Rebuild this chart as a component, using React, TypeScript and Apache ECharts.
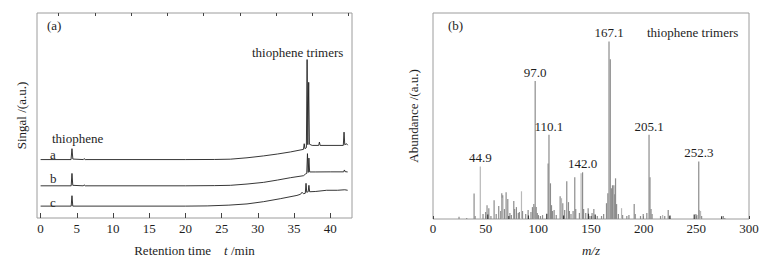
import React, { useEffect, useRef } from "react";
import * as echarts from "echarts";

// ---------- (a) chromatograms: [retention time (min), signal] ----------
const traceA: [number, number][] = [
  [0, 59], [4.2, 59], [4.33, 70], [4.45, 59.5], [5.9, 59], [6.0, 60], [6.15, 59],
  [20, 59], [24, 59.1], [26.2, 59.4], [28.5, 60.8], [30.8, 62.7], [32.7, 64.6],
  [34.5, 66.7], [36.3, 69.3], [36.4, 75], [36.5, 70], [36.7, 71], [36.8, 160],
  [36.9, 74], [37.02, 137], [37.12, 74.5], [37.5, 73.3], [38.4, 73.3], [38.5, 76.7],
  [38.6, 73.3], [41.8, 73.3], [41.9, 86.7], [42.0, 74], [42.25, 75], [42.4, 73.5],
];
const traceB: [number, number][] = [
  [0, 32.5], [4.22, 32.5], [4.33, 45], [4.44, 33], [5.9, 32.5], [6.0, 33.5], [6.15, 32.5],
  [20, 32.5], [24, 32.7], [26.2, 33], [28.5, 34.3], [30.8, 36], [32.7, 38.3],
  [34.5, 40.7], [36.3, 42.7], [36.6, 44.5], [36.75, 45], [36.85, 65], [36.95, 46],
  [37.05, 60.5], [37.15, 46.5], [38, 46.5], [40, 46.6], [41.85, 46.6], [41.95, 48.5],
  [42.05, 46.8], [42.4, 46.5],
];
const traceC: [number, number][] = [
  [0, 12], [4.22, 12], [4.33, 22.5], [4.44, 12], [20, 12], [23, 12.2], [26, 13],
  [28.5, 14.2], [30.8, 16.5], [33.1, 19.5], [35.4, 22.8], [35.9, 24], [36.1, 26],
  [36.3, 24.5], [36.55, 25], [36.65, 35], [36.75, 26], [36.95, 26.5], [37.05, 33],
  [37.15, 26.5], [38, 26.8], [39.5, 28], [41, 28], [42, 28.5], [42.4, 28],
];
const timeMajorTicks = [0, 5, 10, 15, 20, 25, 30, 35, 40];
const timeMinorTicks = [2.5, 7.5, 12.5, 17.5, 22.5, 27.5, 32.5, 37.5, 42.5];

// ---------- (b) mass spectrum: m/z and relative abundance ----------
const peakMz = [44.9, 97.0, 110.1, 142.0, 167.1, 205.1, 252.3];
const peakAbund = [29.6, 77.7, 47.5, 26.3, 100, 47.5, 32.4];
const peakTone = ["light", "mid", "mid", "mid", "mid", "mid", "mid"];

const midMz = [
  24.7, 32, 39, 40, 47.5, 50, 51.3, 53, 55, 58, 60, 62.4, 64.3, 65.3, 66.2, 67.8, 69.4, 71,
  73, 74.4, 76.7, 77.5, 79.2, 81, 82, 85, 88, 90.3, 93, 94.4, 95.7, 98, 99, 100, 102, 104,
  109.3, 111.5, 112.5, 113.5, 115, 117, 120.7, 123.2, 125, 127, 128.6, 129.5, 131, 133,
  134.6, 135.5, 139, 143, 145, 147.3, 149, 151, 152.7, 156, 160, 162, 164.7, 166, 168.3,
  169.3, 170.4, 171.7, 172.5, 173.3, 174.3, 176, 180, 184, 186, 191, 192, 197, 199.6, 203,
  206, 207, 208, 216, 220, 223.3, 224.5, 249.6, 250.5, 255, 275.6, 277,
];
const midAbund = [
  1.3, 0.6, 14.4, 1.7, 2.8, 3.9, 7.8, 6.1, 1.7, 10.6, 2.8, 7.3, 4.5, 14.5, 13.4, 5.6, 15.1, 11.2,
  3.4, 2.2, 10.1, 5.6, 6.7, 3.4, 3.9, 4.5, 2.8, 5, 3.9, 6.7, 8.4, 6.7, 3.4, 2.2, 1.7, 2.2,
  31.3, 20.1, 7.8, 4.5, 5, 2.2, 12.8, 8.9, 5, 21.2, 9.5, 4.5, 2.8, 4.5,
  23.5, 5.6, 3.4, 5.6, 3.4, 6.1, 1.7, 3.4, 5.6, 1.7, 1.7, 2.8, 8.9, 14.5, 90,
  17.3, 19, 19, 14, 22.9, 8.4, 2.8, 2.2, 1.7, 2.2, 8.4, 2.8, 1.7, 2.8, 3.4,
  23.5, 5.6, 2.8, 1.7, 1.7, 5, 1.7, 2.8, 2.2, 1.7, 1.7, 0.6,
];
const lightMz = [65.6, 84, 96.4, 122, 140.6, 179, 218, 253, 254];
const lightAbund = [12, 15.6, 7, 11.7, 25.7, 6.1, 2.2, 5, 4.5];
const darkMz = [52, 72, 90.6, 108, 124, 147.6, 154, 225, 248, 274];
const darkAbund = [2.5, 1.7, 2, 3, 2, 3, 2.5, 2, 2.5, 1.5];

const FONT = "'Liberation Serif', 'Times New Roman', serif";
const TXT = "#1e1e1e";
const FRAME = "#9c9c9c";
const COL_MID = "#8c8c8c";
const COL_LIGHT = "#b8b8b8";
const COL_DARK = "#3a3a3a";

const pairs = (xs: number[], ys: number[]) => xs.map((x, i) => [x, ys[i]]);

export default function App() {
  const ref = useRef<HTMLDivElement>(null);
  useEffect(() => {
    if (!ref.current) return;
    const chart = echarts.init(ref.current, undefined, { renderer: "svg" });
    const lineStyle = { color: "#202020", width: 0.9 };
    const barBase = {
      type: "bar",
      xAxisIndex: 2,
      yAxisIndex: 1,
      barWidth: 1.2,
      barGap: "-100%",
      silent: true,
    };
    const txt = (text: string, x: number, y: number, align = "left") => ({
      type: "text",
      x,
      y,
      style: {
        text,
        fill: TXT,
        font: `13px ${FONT}`,
        textAlign: align,
        textVerticalAlign: "middle",
      },
    });
    chart.setOption({
      animation: false,
      backgroundColor: "#fff",
      textStyle: { fontFamily: FONT, color: TXT },
      grid: [
        { left: 37, right: 411, top: 13, bottom: 42, show: true, borderColor: FRAME, borderWidth: 1 },
        { left: 433, right: 14, top: 13, bottom: 41, show: true, borderColor: FRAME, borderWidth: 1 },
      ],
      xAxis: [
        {
          type: "value",
          gridIndex: 0,
          min: -0.5,
          max: 43,
          splitLine: { show: false },
          axisLine: { show: false },
          axisTick: { show: true, inside: true, length: 5, customValues: timeMajorTicks, lineStyle: { color: "#444" } },
          axisLabel: { show: true, customValues: timeMajorTicks, margin: 4, fontSize: 13, fontFamily: FONT, color: TXT },
          name: "Retention time    {i|t} /min",
          nameLocation: "middle",
          nameGap: 26,
          nameTextStyle: {
            fontSize: 13,
            fontFamily: FONT,
            color: TXT,
            rich: { i: { fontStyle: "italic", fontSize: 13, fontFamily: FONT, color: TXT } },
          },
        },
        {
          type: "value",
          gridIndex: 0,
          min: -0.5,
          max: 43,
          splitLine: { show: false },
          axisLine: { show: false },
          axisTick: { show: true, inside: true, length: 3, customValues: timeMinorTicks, lineStyle: { color: "#444" } },
          axisLabel: { show: false },
        },
        {
          type: "value",
          gridIndex: 1,
          min: 0,
          max: 300,
          interval: 50,
          splitLine: { show: false },
          axisLine: { show: false },
          axisTick: { show: true, inside: true, length: 3, lineStyle: { color: "#444" } },
          axisLabel: { margin: 3, fontSize: 13, fontFamily: FONT, color: TXT },
          name: "m/z",
          nameLocation: "middle",
          nameGap: 25,
          nameTextStyle: { fontSize: 13, fontFamily: FONT, fontStyle: "italic", color: TXT },
        },
      ],
      yAxis: [
        {
          type: "value",
          gridIndex: 0,
          min: 0,
          max: 207,
          axisLine: { show: false },
          axisTick: { show: false },
          axisLabel: { show: false },
          splitLine: { show: false },
          name: "Singal /(a.u.)",
          nameLocation: "middle",
          nameGap: 9,
          nameTextStyle: { fontSize: 13, fontFamily: FONT, color: TXT },
        },
        {
          type: "value",
          gridIndex: 1,
          min: 0,
          max: 116,
          axisLine: { show: false },
          axisTick: { show: false },
          axisLabel: { show: false },
          splitLine: { show: false },
          name: "Abundance /(a.u.)",
          nameLocation: "middle",
          nameGap: 13,
          nameTextStyle: { fontSize: 13, fontFamily: FONT, color: TXT },
        },
      ],
      series: [
        { type: "line", xAxisIndex: 0, yAxisIndex: 0, data: traceA, showSymbol: false, lineStyle, silent: true },
        { type: "line", xAxisIndex: 0, yAxisIndex: 0, data: traceB, showSymbol: false, lineStyle, silent: true },
        { type: "line", xAxisIndex: 0, yAxisIndex: 0, data: traceC, showSymbol: false, lineStyle, silent: true },
        { ...barBase, data: pairs(midMz, midAbund), itemStyle: { color: COL_MID } },
        { ...barBase, data: pairs(lightMz, lightAbund), itemStyle: { color: COL_LIGHT } },
        { ...barBase, data: pairs(darkMz, darkAbund), itemStyle: { color: COL_DARK } },
        {
          ...barBase,
          data: peakMz.map((m, i) => ({
            value: [m, peakAbund[i]],
            itemStyle: { color: peakTone[i] === "light" ? COL_LIGHT : COL_MID },
          })),
          label: {
            show: true,
            position: "top",
            distance: 2,
            fontSize: 13,
            fontFamily: FONT,
            color: TXT,
            formatter: (p: any) => p.value[0].toFixed(1),
          },
        },
      ],
      graphic: [
        txt("(a)", 47, 25),
        txt("thiophene trimers", 252, 52),
        txt("thiophene", 52, 138),
        txt("a", 50, 154),
        txt("b", 50, 178),
        txt("c", 50, 202),
        txt("(b)", 448, 25),
        txt("thiophene trimers", 647, 32),
      ],
    });
    return () => chart.dispose();
  }, []);
  return (
    <div
      ref={ref}
      style={{ position: "fixed", left: 0, top: 0, width: 763, height: 262, background: "#fff" }}
    />
  );
}
